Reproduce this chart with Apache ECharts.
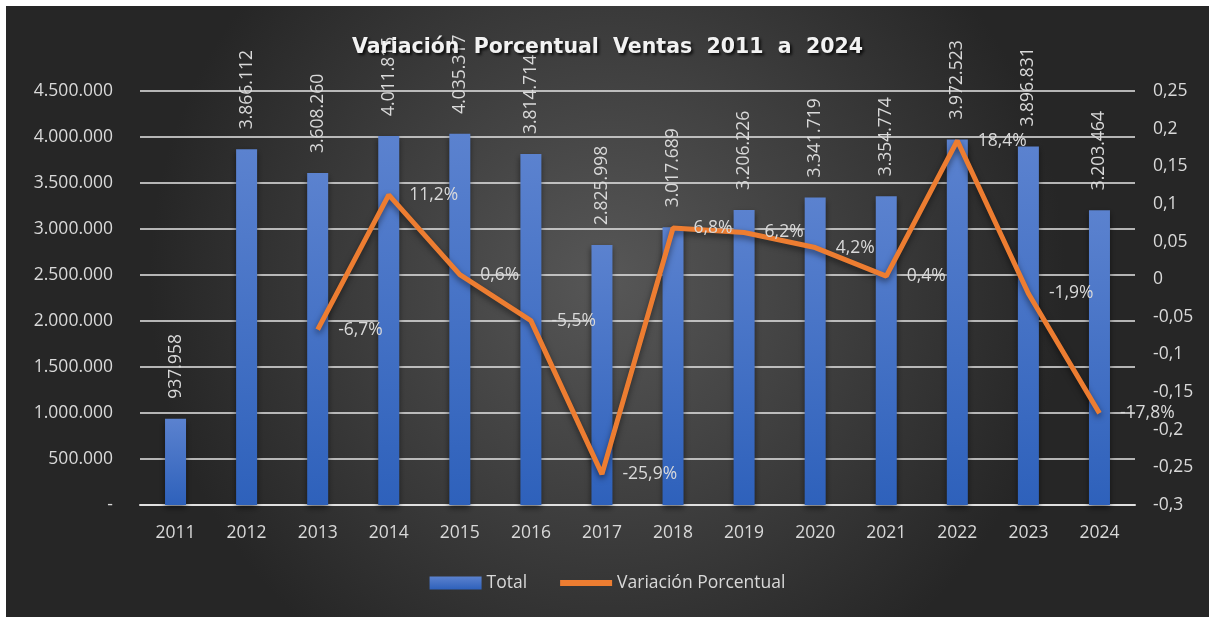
<!DOCTYPE html>
<html lang="es">
<head>
    <meta charset="UTF-8">
    <title>Variación Porcentual Ventas</title>
    <style>
        html, body { margin: 0; padding: 0; background: #fff; overflow: hidden; }
        #chart { position: absolute; left: 6px; top: 6px; width: 1203px; height: 611px; }
    </style>
</head>
<body>
<div id="chart"></div>

<script src="https://cdn.jsdelivr.net/npm/echarts@6/dist/echarts.min.js"></script>
<script type="text/javascript">

    // datos
    var years = ['2011', '2012', '2013', '2014', '2015', '2016', '2017', '2018', '2019', '2020', '2021', '2022', '2023', '2024'];
    var totals = [937958, 3866112, 3608260, 4011815, 4035317, 3814714, 2825998, 3017689, 3206226, 3341719, 3354774, 3972523, 3896831, 3203464];
    var variation = [null, null, -0.067, 0.112, 0.006, -0.055, -0.259, 0.068, 0.062, 0.042, 0.004, 0.184, -0.019, -0.178];

    var font = 'Open Sans';
    var txt = '#d9d9d9';
    var fs = 17.5;

    function miles(v) {
        if (v === 0) return '-';
        return String(Math.round(v)).replace(/\B(?=(\d{3})+(?!\d))/g, '.');
    }
    function coma(v) {
        return String(Math.round(v * 100) / 100).replace('.', ',');
    }

    var myChart = echarts.init(document.getElementById('chart'));

    var option = {
        backgroundColor: {
            type: 'radial', x: 0.5, y: 0.45, r: 0.75,
            colorStops: [{offset: 0, color: '#575757'}, {offset: 1, color: '#262626'}]
        },
        animation: false,
        title: {
            text: 'Variación  Porcentual  Ventas  2011  a  2024',
            left: 'center',
            top: 26,
            textStyle: {
                color: '#f2f2f2',
                fontFamily: 'DejaVu Sans',
                fontWeight: 'bold',
                fontSize: 20.5,
                textShadowColor: 'rgba(0,0,0,0.8)',
                textShadowBlur: 3,
                textShadowOffsetX: 2,
                textShadowOffsetY: 2
            }
        },
        legend: {
            bottom: 20,
            left: 'center',
            itemGap: 33,
            itemWidth: 52,
            itemHeight: 13,
            textStyle: {color: txt, fontFamily: font, fontSize: fs},
            data: [
                {name: 'Total', icon: 'rect'},
                {name: 'Variación Porcentual', icon: 'path://M0,0 H52 V6 H0 Z', itemStyle: {color: '#ed7d31'}}
            ]
        },
        grid: {left: 134, right: 74, top: 85, bottom: 112},
        xAxis: {
            type: 'category',
            data: years,
            axisLine: {lineStyle: {color: '#e0e0e0', width: 2}},
            axisTick: {show: false},
            axisLabel: {color: txt, fontFamily: font, fontSize: fs, margin: 19}
        },
        yAxis: [
            {
                type: 'value',
                min: 0, max: 4500000, interval: 500000,
                axisLine: {show: false},
                axisTick: {show: false},
                axisLabel: {color: txt, fontFamily: font, fontSize: fs, margin: 27, formatter: miles},
                splitLine: {lineStyle: {color: '#e6e6e6', width: 1.5}}
            },
            {
                type: 'value',
                min: -0.3, max: 0.25, interval: 0.05,
                axisLine: {show: false},
                axisTick: {show: false},
                splitLine: {show: false},
                axisLabel: {color: txt, fontFamily: font, fontSize: fs, margin: 18, formatter: coma}
            }
        ],
        series: [
            {
                name: 'Total',
                type: 'bar',
                data: totals,
                barWidth: 21,
                itemStyle: {
                    color: {
                        type: 'linear', x: 0, y: 0, x2: 0, y2: 1,
                        colorStops: [{offset: 0, color: '#5b82cf'}, {offset: 1, color: '#2e61bb'}]
                    },
                    shadowColor: 'rgba(0,0,0,0.5)',
                    shadowBlur: 6,
                    shadowOffsetY: 3
                },
                label: {
                    show: true,
                    position: 'top',
                    rotate: 90,
                    align: 'left',
                    verticalAlign: 'middle',
                    distance: 20,
                    color: txt,
                    fontFamily: font,
                    fontSize: fs,
                    formatter: function (p) { return miles(p.value); }
                }
            },
            {
                name: 'Variación Porcentual',
                type: 'line',
                yAxisIndex: 1,
                data: variation,
                symbol: 'circle',
                symbolSize: 1,
                showSymbol: true,
                lineStyle: {
                    color: '#ed7d31', width: 5,
                    shadowColor: 'rgba(0,0,0,0.5)', shadowBlur: 6, shadowOffsetY: 3
                },
                itemStyle: {color: 'rgba(237,125,49,0)'},
                label: {
                    show: true,
                    position: 'right',
                    distance: 20,
                    color: txt,
                    fontFamily: font,
                    fontSize: fs,
                    formatter: function (p) {
                        return (Math.round(p.value * 1000) / 10).toFixed(1).replace('.', ',') + '%';
                    }
                },
                labelLayout: {hideOverlap: false}
            }
        ]
    };

    myChart.setOption(option);
</script>

</body>
</html>
